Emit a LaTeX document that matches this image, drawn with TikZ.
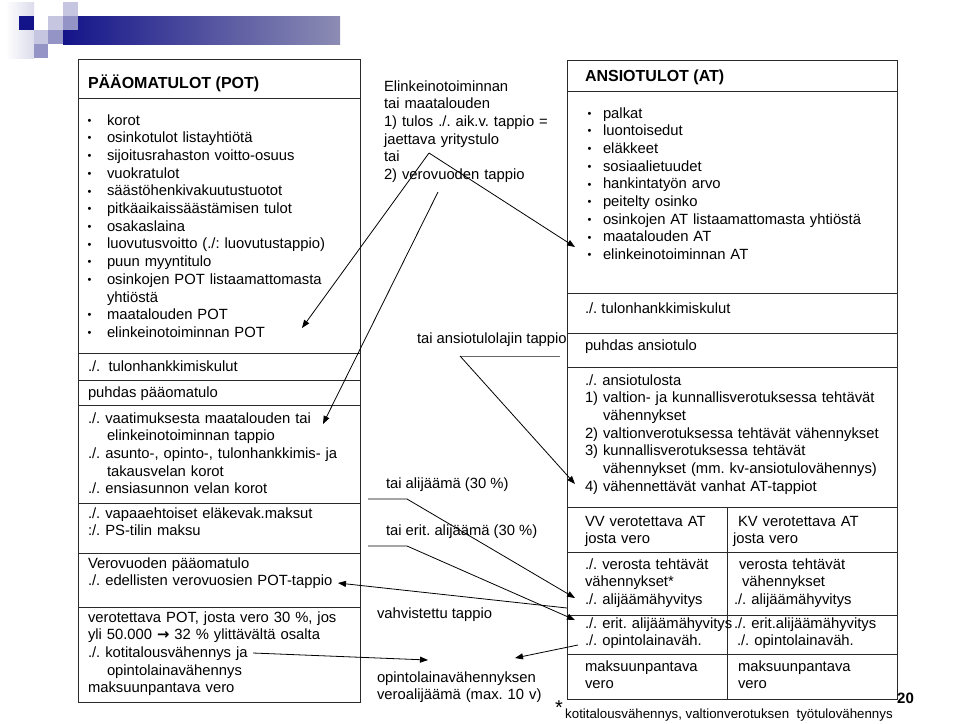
\documentclass[tikz,border=0pt]{standalone}
\usepackage{fontspec}
\setmainfont{Liberation Sans}
\newfontfamily\dejavu{DejaVu Sans}
\usetikzlibrary{arrows.meta}
\definecolor{navy}{HTML}{14148A}
\definecolor{bandend}{HTML}{8C8CB4}
\definecolor{pale}{HTML}{DCDCEC}
\definecolor{lightp}{HTML}{C6C6E0}
\definecolor{medp}{HTML}{9494C6}
\definecolor{frame}{HTML}{2A2A2A}
\newcommand{\bu}{\makebox[22pt][l]{\hspace{2.5pt}\raisebox{0.8pt}{\fontsize{11}{11}\selectfont\textbullet}}}
\newcommand{\bur}{\makebox[17pt][l]{\hspace{1.5pt}\raisebox{0.8pt}{\fontsize{11}{11}\selectfont\textbullet}}}
\newcommand{\bigarr}{{\dejavu\bfseries →}}
\frenchspacing
\begin{document}
\frenchspacing
\begin{tikzpicture}[x=1pt,y=-1pt,
  boxline/.style={draw=frame, line width=0.9pt},
  tb/.style={anchor=base west, inner sep=0pt, outer sep=0pt, align=left, font=\fontsize{14.8}{17.7}\selectfont},
  blk/.style={tb, text width=#1},
  ttl/.style={anchor=base west, inner sep=0pt, outer sep=0pt, font=\bfseries\fontsize{16}{19}\selectfont},
  conn/.style={draw=black, line width=0.8pt},
  arr/.style={conn, -{Triangle[length=8pt,width=6pt]}}
]
\fill[white] (0,0) rectangle (960,723);
\useasboundingbox (0,0) rectangle (960,723);

% decoration
\shade[left color=white, right color=pale] (5,2) rectangle (34,58);
\fill[navy] (19,16) rectangle (34,30);
\fill[lightp] (48,16) rectangle (63,30);
\fill[lightp] (63,2) rectangle (78,16);
\fill[lightp] (34,30) rectangle (48,44);
\fill[medp] (48,30) rectangle (63,44);
\fill[medp] (34,44) rectangle (48,58);
\shade[left color=navy, right color=bandend] (63,16) rectangle (340,44);
\fill[medp] (63,16) rectangle (78,30);

% left box frame
\draw[boxline] (78,59) rectangle (360,702);
\foreach \yy in {98,353,380,405,503,553,607} \draw[boxline] (78,\yy) -- (360,\yy);

% right box frame
\draw[boxline] (567,60) rectangle (897,699);
\foreach \yy in {91,293,333,367,507,552,615,654} \draw[boxline] (567,\yy) -- (897,\yy);
\draw[boxline] (727,507) -- (727,699);

% left texts
\node[ttl] (ltitle) at (88,88) {PÄÄOMATULOT (POT)};
\node[blk=270pt] (lbul) at (85,125) {\bu korot\\ \bu osinkotulot listayhtiötä\\ \bu sijoitusrahaston voitto-osuus\\ \bu vuokratulot\\ \bu säästöhenkivakuutustuotot\\ \bu pitkäaikaissäästämisen tulot\\ \bu osakaslaina\\ \bu luovutusvoitto (./: luovutustappio)\\ \bu puun myyntitulo\\ \bu osinkojen POT listaamattomasta\\ \hspace*{22pt}yhtiöstä\\ \bu maatalouden POT\\ \bu elinkeinotoiminnan POT};
\node[tb] (lthk) at (88,371) {./.\ \ tulonhankkimiskulut};
\node[tb] (lpuhdas) at (88,397) {puhdas pääomatulo};
\node[blk=272pt] (lvaat) at (88,423) {./. vaatimuksesta maatalouden tai\\ \hspace*{19pt}elinkeinotoiminnan tappio\\ ./. asunto-, opinto-, tulonhankkimis- ja\\ \hspace*{19pt}takausvelan korot\\ ./. ensiasunnon velan korot};
\node[blk=270pt] (lvapaa) at (88,518) {./. vapaaehtoiset eläkevak.maksut\\ :/. PS-tilin maksu};
\node[blk=270pt] (lvero) at (88,568) {Verovuoden pääomatulo\\ ./. edellisten verovuosien POT-tappio};
\node[blk=272pt] (lverot) at (88,622) {verotettava POT, josta vero 30 \%, jos\\ yli 50.000 \bigarr{} 32 \% ylittävältä osalta\\ ./. kotitalousvähennys ja\\ \hspace*{19pt}opintolainavähennys\\ maksuunpantava vero};

% middle texts
\node[blk=190pt] (mel) at (384,91) {Elinkeinotoiminnan\\ tai maatalouden\\ 1) tulos ./. aik.v. tappio =\\ jaettava yritystulo\\ tai\\ 2) verovuoden tappio};
\node[tb] (mansio) at (417,343) {tai ansiotulolajin tappio};
\node[tb] (mali) at (386,488) {tai alijäämä (30 \%)};
\node[tb] (merit) at (386,535) {tai erit. alijäämä (30 \%)};
\node[tb] (mvahv) at (377,618) {vahvistettu tappio};
\node[blk=190pt] (mopl) at (377,682) {opintolainavähennyksen\\ veroalijäämä (max. 10 v)};

% right texts
\node[ttl] (rtitle) at (585,81) {ANSIOTULOT (AT)};
\node[blk=305pt] (rbul) at (586,118) {\bur palkat\\ \bur luontoisedut\\ \bur eläkkeet\\ \bur sosiaalietuudet\\ \bur hankintatyön arvo\\ \bur peitelty osinko\\ \bur osinkojen AT listaamattomasta yhtiöstä\\ \bur maatalouden AT\\ \bur elinkeinotoiminnan AT};
\node[tb] (rthk) at (585,313) {./. tulonhankkimiskulut};
\node[tb] (rpuhdas) at (585,350) {puhdas ansiotulo};
\node[blk=310pt] (rans) at (585,385) {./. ansiotulosta\\ 1) valtion- ja kunnallisverotuksessa tehtävät\\ \hspace*{18pt}vähennykset\\ 2) valtionverotuksessa tehtävät vähennykset\\ 3) kunnallisverotuksessa tehtävät\\ \hspace*{18pt}vähennykset (mm. kv-ansiotulovähennys)\\ 4) vähennettävät vanhat AT-tappiot};
\node[blk=140pt] (rvv) at (585,526) {VV verotettava AT\\ josta vero};
\node[blk=150pt] (rkv) at (733,526) {\hspace*{5pt}KV verotettava AT\\ josta vero};
\node[blk=140pt] (rvvded) at (585,569) {./. verosta tehtävät\\ vähennykset*\\ ./. alijäämähyvitys};
\node[blk=150pt] (rkvded) at (734,569) {\hspace*{5pt}verosta tehtävät\\ \hspace*{8pt}vähennykset\\ ./. alijäämähyvitys};
\node[blk=160pt] (rvverit) at (585,628) {./. erit. alijäämähyvitys\\ ./. opintolainaväh.};
\node[blk=150pt] (rkverit) at (734,628) {./. erit.alijäämähyvitys\\ \hspace*{3pt}./. opintolainaväh.};
\node[blk=140pt] (rvvmaks) at (585,671) {maksuunpantava\\ vero};
\node[blk=140pt] (rkvmaks) at (738,671) {maksuunpantava\\ vero};

% footnote and page number
\node[anchor=base west, inner sep=0pt, font=\fontsize{20}{24}\selectfont] (star) at (555,714) {*};
\node[anchor=base west, inner sep=0pt, font=\fontsize{13.3}{16}\selectfont] (foot) at (565,718) {kotitalousvähennys, valtionverotuksen\ \ työtulovähennys};
\node[anchor=base west, inner sep=0pt, font=\bfseries\fontsize{15}{18}\selectfont] (pnum) at (897,703) {20};

% connectors
\coordinate (apex) at (429,153);
\coordinate (t1) at (302,328);
\coordinate (t2) at (575,247);
\draw[arr] (apex) -- (t1);
\draw[arr] (apex) -- (t2);
\coordinate (s2) at (438,192);
\coordinate (t3) at (323,424);
\draw[arr] (s2) -- (t3);
\coordinate (h1a) at (560,356);
\coordinate (h1b) at (460,356);
\coordinate (t4) at (575,484);
\draw[conn, draw=black!60] (h1a) -- (h1b);
\draw[arr] (h1b) -- (t4);
\coordinate (a1) at (368,499);
\coordinate (a2) at (407,499);
\coordinate (t5) at (575,598);
\draw[arr] (a1) -- (a2) -- (t5);
\coordinate (b1) at (368,546);
\coordinate (b2) at (407,546);
\coordinate (t6) at (575,620);
\draw[arr] (b1) -- (b2) -- (t6);
\coordinate (v1) at (567,608);
\coordinate (t7) at (338,583);
\draw[arr] (v1) -- (t7);
\coordinate (k1) at (253,653);
\coordinate (t8) at (428,660);
\draw[arr] (k1) -- (t8);
\coordinate (o1) at (578,645);
\coordinate (t9) at (515,658);
\draw[arr] (o1) -- (t9);
\end{tikzpicture}
\end{document}
